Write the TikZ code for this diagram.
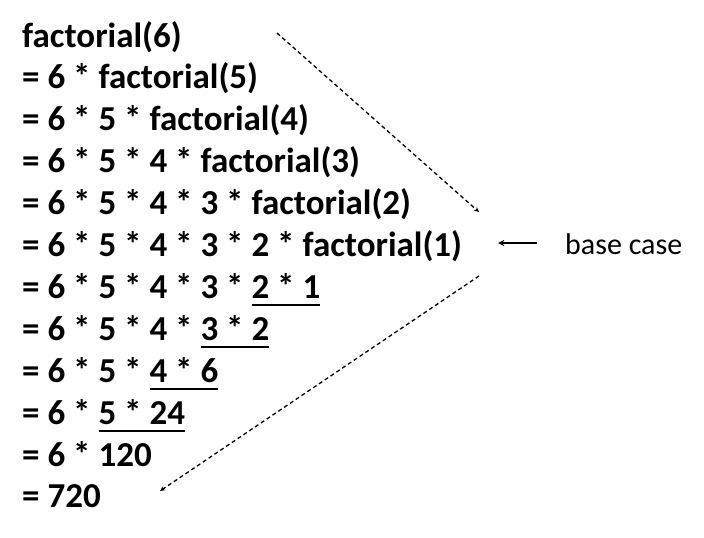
\documentclass[tikz,border=0pt]{standalone}
\usepackage{fontspec}
\setmainfont{Carlito}
\usetikzlibrary{arrows.meta}
\newsavebox\ulbox
\newcommand\myul[1]{\sbox\ulbox{#1}\rlap{\rule[-7.5pt]{\wd\ulbox}{2pt}}\usebox\ulbox}
\begin{document}
\begin{tikzpicture}[x=1pt,y=-1pt,
  line/.style={anchor=base west,inner sep=0pt,font=\fontsize{35}{40}\selectfont\bfseries},
  note/.style={anchor=base west,inner sep=0pt,font=\fontsize{30}{36}\selectfont},
  dasharrow/.style={line width=1.3pt,dash pattern=on 4pt off 3pt,-{Stealth[length=5pt,width=4.5pt]}},
  solidarrow/.style={line width=1.5pt,-{Stealth[length=6pt,width=6pt]}}]
\useasboundingbox[fill=white] (0,0) rectangle (704,538);
\node[line] (l1)  at (22,47)    {factorial(6)};
\node[line] (l2)  at (22,88.9)  {= 6 * factorial(5)};
\node[line] (l3)  at (22,130.8) {= 6 * 5 * factorial(4)};
\node[line] (l4)  at (22,172.7) {= 6 * 5 * 4 * factorial(3)};
\node[line] (l5)  at (22,214.6) {= 6 * 5 * 4 * 3 * factorial(2)};
\node[line] (l6)  at (22,256.5) {= 6 * 5 * 4 * 3 * 2 * factorial(1)};
\node[line] (l7)  at (22,298.4) {= 6 * 5 * 4 * 3 * \myul{2 * 1}};
\node[line] (l8)  at (22,340.3) {= 6 * 5 * 4 * \myul{3 * 2}};
\node[line] (l9)  at (22,382.2) {= 6 * 5 * \myul{4 * 6}};
\node[line] (l10) at (22,424.1) {= 6 * \myul{5 * 24}};
\node[line] (l11) at (22,466)   {= 6 * 120};
\node[line] (l12) at (22,507.9) {= 720};
\node[note] (bc) at (565,254) {base case};
\coordinate (d1s) at (277,33);
\coordinate (d1e) at (479,212);
\coordinate (d2s) at (479,276);
\coordinate (d2e) at (160,491);
\draw[dasharrow] (d1s) -- (d1e);
\draw[dasharrow] (d2s) -- (d2e);
\draw[solidarrow] ([xshift=-28pt,yshift=11pt]bc.base west) -- ([xshift=36pt,yshift=13.5pt]l6.base east);
\end{tikzpicture}
\end{document}
